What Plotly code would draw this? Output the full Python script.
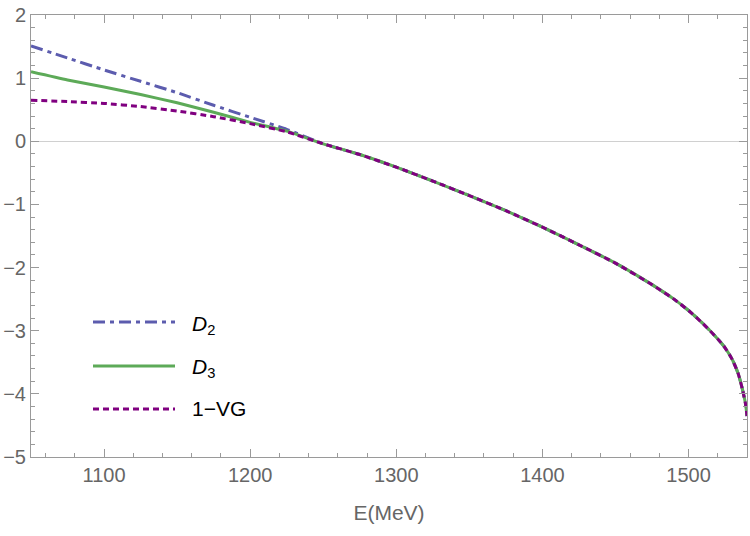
import plotly.graph_objects as go

# Energy grid (MeV)
E = [1050, 1075, 1100, 1125, 1150, 1175, 1200, 1225, 1250, 1275, 1300, 1325,
     1350, 1375, 1400, 1425, 1450, 1475, 1490, 1500, 1510, 1520, 1525, 1530,
     1534, 1537, 1539, 1540]

# common high-energy part (E >= 1250) shared by all three curves
common = [-0.04, -0.21, -0.41, -0.63, -0.86, -1.10, -1.36, -1.64, -1.93, -2.27,
          -2.50, -2.68, -2.89, -3.13, -3.27, -3.46, -3.68, -3.94, -4.16, -4.35]

D2_low = [1.51, 1.32, 1.13, 0.95, 0.77, 0.57, 0.38, 0.19]
D3_low = [1.10, 0.97, 0.86, 0.74, 0.61, 0.46, 0.30, 0.16]
VG_low = [0.65, 0.63, 0.60, 0.55, 0.48, 0.39, 0.28, 0.15]

D2 = D2_low + common
D3 = D3_low + common
VG = VG_low + common

x_ticks = [1100, 1200, 1300, 1400, 1500]
y_ticks = [-5, -4, -3, -2, -1, 0, 1, 2]

names = ["<i>D</i><sub>2</sub>", "<i>D</i><sub>3</sub>", "1\u2212VG"]
colors = ["#5C5CAE", "#5DAA58", "#800080"]
dashes = ["12px,5px,4px,5px", "solid", "6px,4px"]
series = [D2, D3, VG]

fig = go.Figure()
for ys, c, d in zip(series, colors, dashes):
    fig.add_trace(go.Scatter(x=E, y=ys, mode="lines", showlegend=False,
                             line=dict(color=c, width=3, dash=d, shape="spline",
                                       smoothing=0.5)))

W, H = 750, 536
L, R, T, B = 31, 3, 15, 79
pw, ph = W - L - R, H - T - B

def px2paper(px, py):
    return (px - L) / pw, (H - B - py) / ph

# manual legend
rows_y = [322, 366, 409]
text_y = [325, 368, 408]
for name, c, d, py, ty in zip(names, colors, dashes, rows_y, text_y):
    x0, y0 = px2paper(93, py)
    x1, _ = px2paper(175, py)
    fig.add_shape(type="line", xref="paper", yref="paper", x0=x0, x1=x1,
                  y0=y0, y1=y0, line=dict(color=c, width=3, dash=d))
    tx, tyy = px2paper(190, ty)
    fig.add_annotation(xref="paper", yref="paper", x=tx, y=tyy, text=name,
                       showarrow=False, xanchor="left", yanchor="middle",
                       font=dict(size=21, color="black",
                                 family="Liberation Sans, Arial, sans-serif"))

axis_common = dict(
    showline=True, linecolor="#9a9a9a", linewidth=1, mirror="allticks",
    ticks="inside", ticklen=8, tickcolor="#9a9a9a", tickwidth=1,
    showgrid=False,
    tickfont=dict(size=20, color="#666666",
                  family="Liberation Sans, Arial, sans-serif"),
)

fig.update_xaxes(range=[1050, 1540], tickvals=x_ticks,
                 minor=dict(dtick=20, ticklen=4, ticks="inside",
                            tickcolor="#9a9a9a", showgrid=False),
                 zeroline=False,
                 title=dict(text="E(MeV)", standoff=20,
                            font=dict(size=21, color="#666666",
                                      family="Liberation Sans, Arial, sans-serif")),
                 **axis_common)
fig.update_yaxes(range=[-5, 2], tickvals=y_ticks,
                 minor=dict(dtick=0.2, ticklen=4, ticks="inside",
                            tickcolor="#9a9a9a", showgrid=False),
                 zeroline=True, zerolinecolor="#d0d0d0", zerolinewidth=1,
                 **axis_common)

fig.update_layout(width=W, height=H, margin=dict(l=L, r=R, t=T, b=B),
                  plot_bgcolor="white", paper_bgcolor="white")

fig.write_html("out.html")
